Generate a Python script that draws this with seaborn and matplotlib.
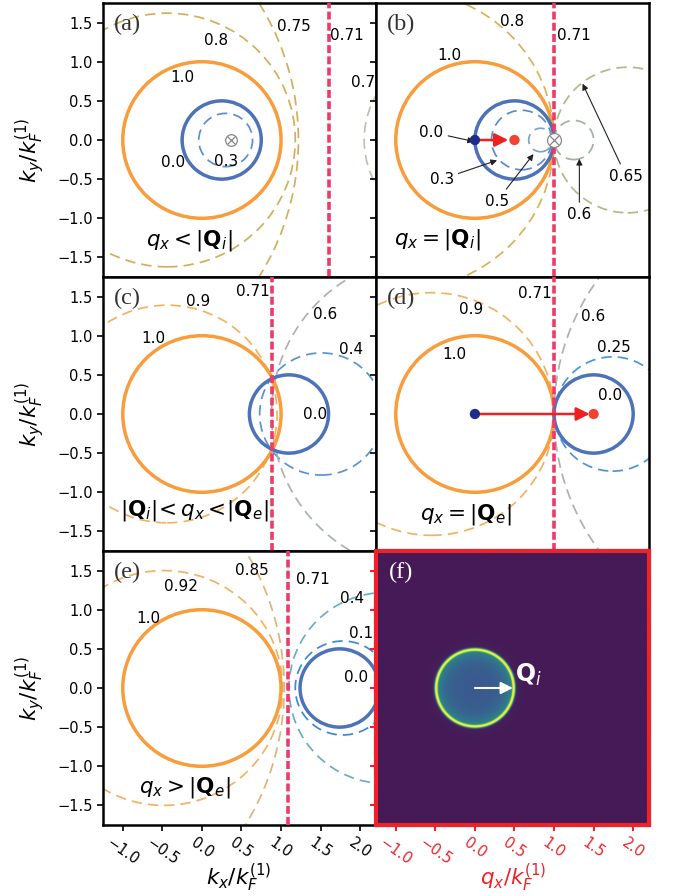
import numpy as np
import pandas as pd
import matplotlib
matplotlib.use("Agg")
import matplotlib.pyplot as plt
from matplotlib.patches import Circle
from matplotlib.colors import LinearSegmentedColormap
import seaborn as sns

sns.set_theme(style="ticks")
plt.rcParams['font.family'] = ['DejaVu Sans']
plt.rcParams['mathtext.fontset'] = 'dejavusans'
plt.rcParams['axes.edgecolor'] = 'black'
plt.rcParams['text.color'] = 'black'
plt.rcParams['xtick.color'] = 'black'
plt.rcParams['ytick.color'] = 'black'

# ---------------- data ----------------
XTICKS = [-1.0, -0.5, 0.0, 0.5, 1.0, 1.5, 2.0]
YTICKS = [-1.5, -1.0, -0.5, 0.0, 0.5, 1.0, 1.5]
XLIM = (-1.25, 2.2)
YLIM = (-1.75, 1.75)

panel_tags = ["(a)", "(b)", "(c)", "(d)", "(e)"]
conditions = [r"$q_x < |\mathbf{Q}_i|$", r"$q_x = |\mathbf{Q}_i|$",
              r"$|\mathbf{Q}_i|\!<q_x<\!|\mathbf{Q}_e|$", r"$q_x = |\mathbf{Q}_e|$",
              r"$q_x > |\mathbf{Q}_e|$"]
cond_pos = [(-0.16, -1.29), (-0.47, -1.27), (-0.10, -1.23), (-0.11, -1.29), (-0.22, -1.27)]

# Fermi surface (solid): orange circle and blue circle per panel
orange_c = [0.0, 0.0, 0.0, 0.0, 0.0]
orange_r = [1.0, 1.0, 1.0, 1.0, 1.0]
blue_c = [0.25, 0.5, 1.1, 1.5, 1.74]
blue_r = [0.5, 0.5, 0.5, 0.5, 0.5]

# vertical line (0.71 contour)
vline_x = [1.61, 1.0, 0.89, 1.0, 1.09]

# dashed contour circles: centers, radii, colours
dash_c = [[0.30, -0.44, -2.10, 3.21],
          [0.59, 0.83, 1.25, 1.93, -0.906],
          [-0.44, 1.51, 2.91],
          [-0.55, 1.74, 3.95],
          [-0.48, -2.33, 2.32, 1.78]]
dash_r = [[0.34, 1.62, 3.32, 1.16],
          [0.38, 0.15, 0.25, 0.93, 1.906],
          [1.39, 0.78, 2.03],
          [1.55, 0.73, 2.95],
          [1.50, 3.37, 1.22, 0.60]]
dash_col = [["#5b8fd0", "#d4ae5a", "#d4ae5a", "#c4bfae"],
            ["#5a8bd0", "#80a4c4", "#9cb4a0", "#aebc88", "#d8b258"],
            ["#f2b264", "#5a92d2", "#aab3ae"],
            ["#f2b264", "#4a95da", "#aab3ae"],
            ["#f2b264", "#dcb47c", "#6aaec2", "#3a8ad8"]]

# plain value labels: text, x, y, horizontal alignment
lab_txt = [["0.75", "0.71", "0.8", "1.0", "0.7", "0.0", "0.3"],
           ["0.8", "0.71", "1.0"],
           ["0.71", "0.9", "0.6", "1.0", "0.4", "0.0"],
           ["0.71", "0.9", "0.6", "0.25", "1.0", "0.0"],
           ["0.85", "0.92", "0.71", "0.4", "1.0", "0.1", "0.0"]]
lab_x = [[1.16, 1.83, 0.18, -0.25, 1.89, -0.37, 0.31],
         [0.47, 1.25, -0.32],
         [0.65, -0.05, 1.56, -0.61, 1.88, 1.43],
         [0.76, -0.05, 1.50, 1.75, -0.26, 1.71],
         [0.63, -0.27, 1.40, 1.75, -0.68, 1.86, 1.79]]
lab_y = [[1.45, 1.33, 1.27, 0.80, 0.74, -0.29, -0.27],
         [1.52, 1.34, 1.08],
         [1.57, 1.44, 1.27, 0.97, 0.82, -0.01],
         [1.54, 1.34, 1.24, 0.85, 0.76, 0.23],
         [1.50, 1.30, 1.38, 1.14, 0.89, 0.70, 0.14]]
lab_ha = [["c", "c", "c", "c", "l", "c", "c"],
          ["c", "c", "c"],
          ["c", "c", "c", "c", "c", "c"],
          ["c", "c", "c", "c", "c", "c"],
          ["c", "c", "c", "l", "c", "l", "l"]]

# arrowed labels in panel (b)
b_arrow_txt = ["0.0", "0.3", "0.5", "0.6", "0.65"]
b_arrow_text_xy = [(-0.55, 0.10), (-0.42, -0.50), (0.28, -0.78), (1.32, -0.95), (1.91, -0.46)]
b_arrow_tip_xy = [(-0.01, -0.02), (0.28, -0.26), (0.74, -0.18), (1.32, -0.24), (1.36, 0.72)]

# crossed-circle markers (panel index, x)
otimes_panel = [0, 1]
otimes_x = [0.37, 1.0]

# momentum transfer arrows: panel index, start, end of arrow (dots at start/end)
q_panel = [1, 3]
q_start = [0.0, 0.0]
q_end = [0.5, 1.5]

# panel (f) intensity map parameters
f_center = (0.0, 0.0)
f_radius = 0.5
f_arrow_len = 0.48
f_label_xy = (0.68, 0.17)

# ---------------- figure ----------------
W, H = 677, 896
fig = plt.figure(figsize=(W / 100, H / 100), dpi=100)
col_x = [103, 376]
col_w = 273
row_y = [3, 277, 551]
row_h = 274


def add(ix, iy):
    return fig.add_axes([col_x[ix] / W, 1 - (row_y[iy] + row_h) / H, col_w / W, row_h / H])


positions = [(0, 0), (1, 0), (0, 1), (1, 1), (0, 2)]
axes = [add(*p) for p in positions]
axf = add(1, 2)

ORANGE = "#f89c3c"
BLUE = "#4c72b9"
VRED = "#ee3a68"

for i, ax in enumerate(axes):
    ax.set_xlim(*XLIM)
    ax.set_ylim(*YLIM)
    ax.set_xticks(XTICKS)
    ax.set_yticks(YTICKS)
    for s in ax.spines.values():
        s.set_linewidth(1.8)
        s.set_color("black")
    ax.tick_params(direction="out", length=4, width=1.2, labelsize=10.5)
    col, row = positions[i]
    if col == 1:
        ax.tick_params(labelleft=False)
    if row != 2:
        ax.tick_params(labelbottom=False)
    # dashed contours
    for c, r, cl in zip(dash_c[i], dash_r[i], dash_col[i]):
        ax.add_patch(Circle((c, 0), r, fill=False, ec=cl, lw=1.25,
                            ls=(0, (6, 3.5)), zorder=2))
    # solid Fermi surfaces
    ax.add_patch(Circle((orange_c[i], 0), orange_r[i], fill=False, ec=ORANGE, lw=2.5, zorder=3))
    ax.add_patch(Circle((blue_c[i], 0), blue_r[i], fill=False, ec=BLUE, lw=2.5, zorder=3))
    # 0.71 line
    ax.axvline(vline_x[i], color=VRED, lw=2.6, ls=(0, (2.2, 0.9)), zorder=4)
    # labels
    for t, x, y, ha in zip(lab_txt[i], lab_x[i], lab_y[i], lab_ha[i]):
        ax.text(x, y, t, fontsize=11, ha={"c": "center", "l": "left"}[ha],
                va="center", clip_on=True, zorder=6)
    ax.text(*cond_pos[i], conditions[i], fontsize=15.5, ha="center", va="center", zorder=6)
    ax.text(0.09, 0.92, panel_tags[i], transform=ax.transAxes, fontsize=17.5,
            family="Liberation Serif", color="#333333", ha="center", va="center")

# crossed circle markers
for p, x in zip(otimes_panel, otimes_x):
    ax = axes[p]
    fc = "white"
    sz = 100 if p == 1 else 70
    ax.scatter([x], [0], s=sz, marker="o", facecolor=fc, edgecolor="#888888", lw=0.9, zorder=7)
    ax.scatter([x], [0], s=sz * 0.45, marker="x", color="#888888", lw=0.9, zorder=8)

# q arrows + dots
for p, x0, x1 in zip(q_panel, q_start, q_end):
    ax = axes[p]
    ax.annotate("", xy=(x1 - 0.05 - (0.03 if x1 < 1 else 0), 0), xytext=(x0, 0),
                arrowprops=dict(arrowstyle="-|>", color="#ee2020", lw=1.8,
                                mutation_scale=20, shrinkA=0, shrinkB=0), zorder=6)
    df = pd.DataFrame({"x": [x0, x1], "y": [0, 0], "kind": ["start", "end"]})
    sns.scatterplot(data=df, x="x", y="y", hue="kind",
                    palette={"start": "#1f2d8a", "end": "#ee4433"},
                    s=55, edgecolor="none", legend=False, ax=ax, zorder=7)
    ax.set_xlabel("")
    ax.set_ylabel("")

# arrowed labels in (b)
for t, txy, tip in zip(b_arrow_txt, b_arrow_text_xy, b_arrow_tip_xy):
    axes[1].annotate(t, xy=tip, xytext=txy, fontsize=11, ha="center", va="center",
                     arrowprops=dict(arrowstyle="-|>", color="#222222", lw=0.8,
                                     mutation_scale=9, shrinkA=1, shrinkB=0), zorder=6)

# ---------------- panel (f) ----------------
FRED = "#ee2228"
cmap = LinearSegmentedColormap.from_list(
    "f", [(0.0, "#461a56"), (0.36, "#3b5890"), (0.55, "#2a8a8a"),
          (0.78, "#44bc6c"), (1.0, "#f0ec3a")])
gx = np.linspace(XLIM[0], XLIM[1], 900)
gy = np.linspace(YLIM[0], YLIM[1], 900)
GX, GY = np.meshgrid(gx, gy)
R = np.hypot(GX - f_center[0], GY - f_center[1])
inside = R < f_radius
field = np.where(inside, 0.37 + 0.2 * (R / f_radius) ** 4, 0.0)
field = field + 1.0 * np.exp(-((R - f_radius + 0.004) / 0.02) ** 2)
field = field + np.where(~inside, 0.04 * np.exp(-(R - f_radius) / 0.12), 0.0)
field = np.clip(field, 0, 1)
axf.imshow(field, extent=[XLIM[0], XLIM[1], YLIM[0], YLIM[1]], origin="lower",
           cmap=cmap, vmin=0, vmax=1, aspect="auto", interpolation="antialiased")
axf.set_xlim(*XLIM)
axf.set_ylim(*YLIM)
axf.set_xticks(XTICKS)
axf.set_yticks(YTICKS)
for s in axf.spines.values():
    s.set_linewidth(3)
    s.set_color(FRED)
axf.tick_params(direction="out", length=4, width=1.5, color=FRED, labelcolor=FRED,
                labelsize=10.5, labelleft=False)
axf.annotate("", xy=(f_center[0] + f_arrow_len, 0), xytext=f_center,
             arrowprops=dict(arrowstyle="-|>", color="white", lw=1.5,
                             mutation_scale=18, shrinkA=0, shrinkB=0))
axf.text(*f_label_xy, r"$\mathbf{Q}_i$", color="white", fontsize=17, ha="center", va="center")
axf.text(0.09, 0.92, "(f)", transform=axf.transAxes, fontsize=17.5,
         family="Liberation Serif", color="white", ha="center", va="center")

# rotated tick labels on bottom row
for ax in [axes[4], axf]:
    for lbl in ax.get_xticklabels():
        lbl.set_rotation(-35)
        lbl.set_ha("center")

# axis labels
ylab = r"$k_y/k_F^{(1)}$"
for yc in [150, 414, 688]:
    fig.text(30 / W, 1 - yc / H, ylab, rotation=90, fontsize=15.5, ha="center", va="center")
fig.text(239 / W, 1 - 878 / H, r"$k_x/k_F^{(1)}$", fontsize=15.5, ha="center", va="center")
fig.text(513 / W, 1 - 878 / H, r"$q_x/k_F^{(1)}$", fontsize=15.5, ha="center", va="center",
         color=FRED)

fig.savefig("out.png", dpi=100)
